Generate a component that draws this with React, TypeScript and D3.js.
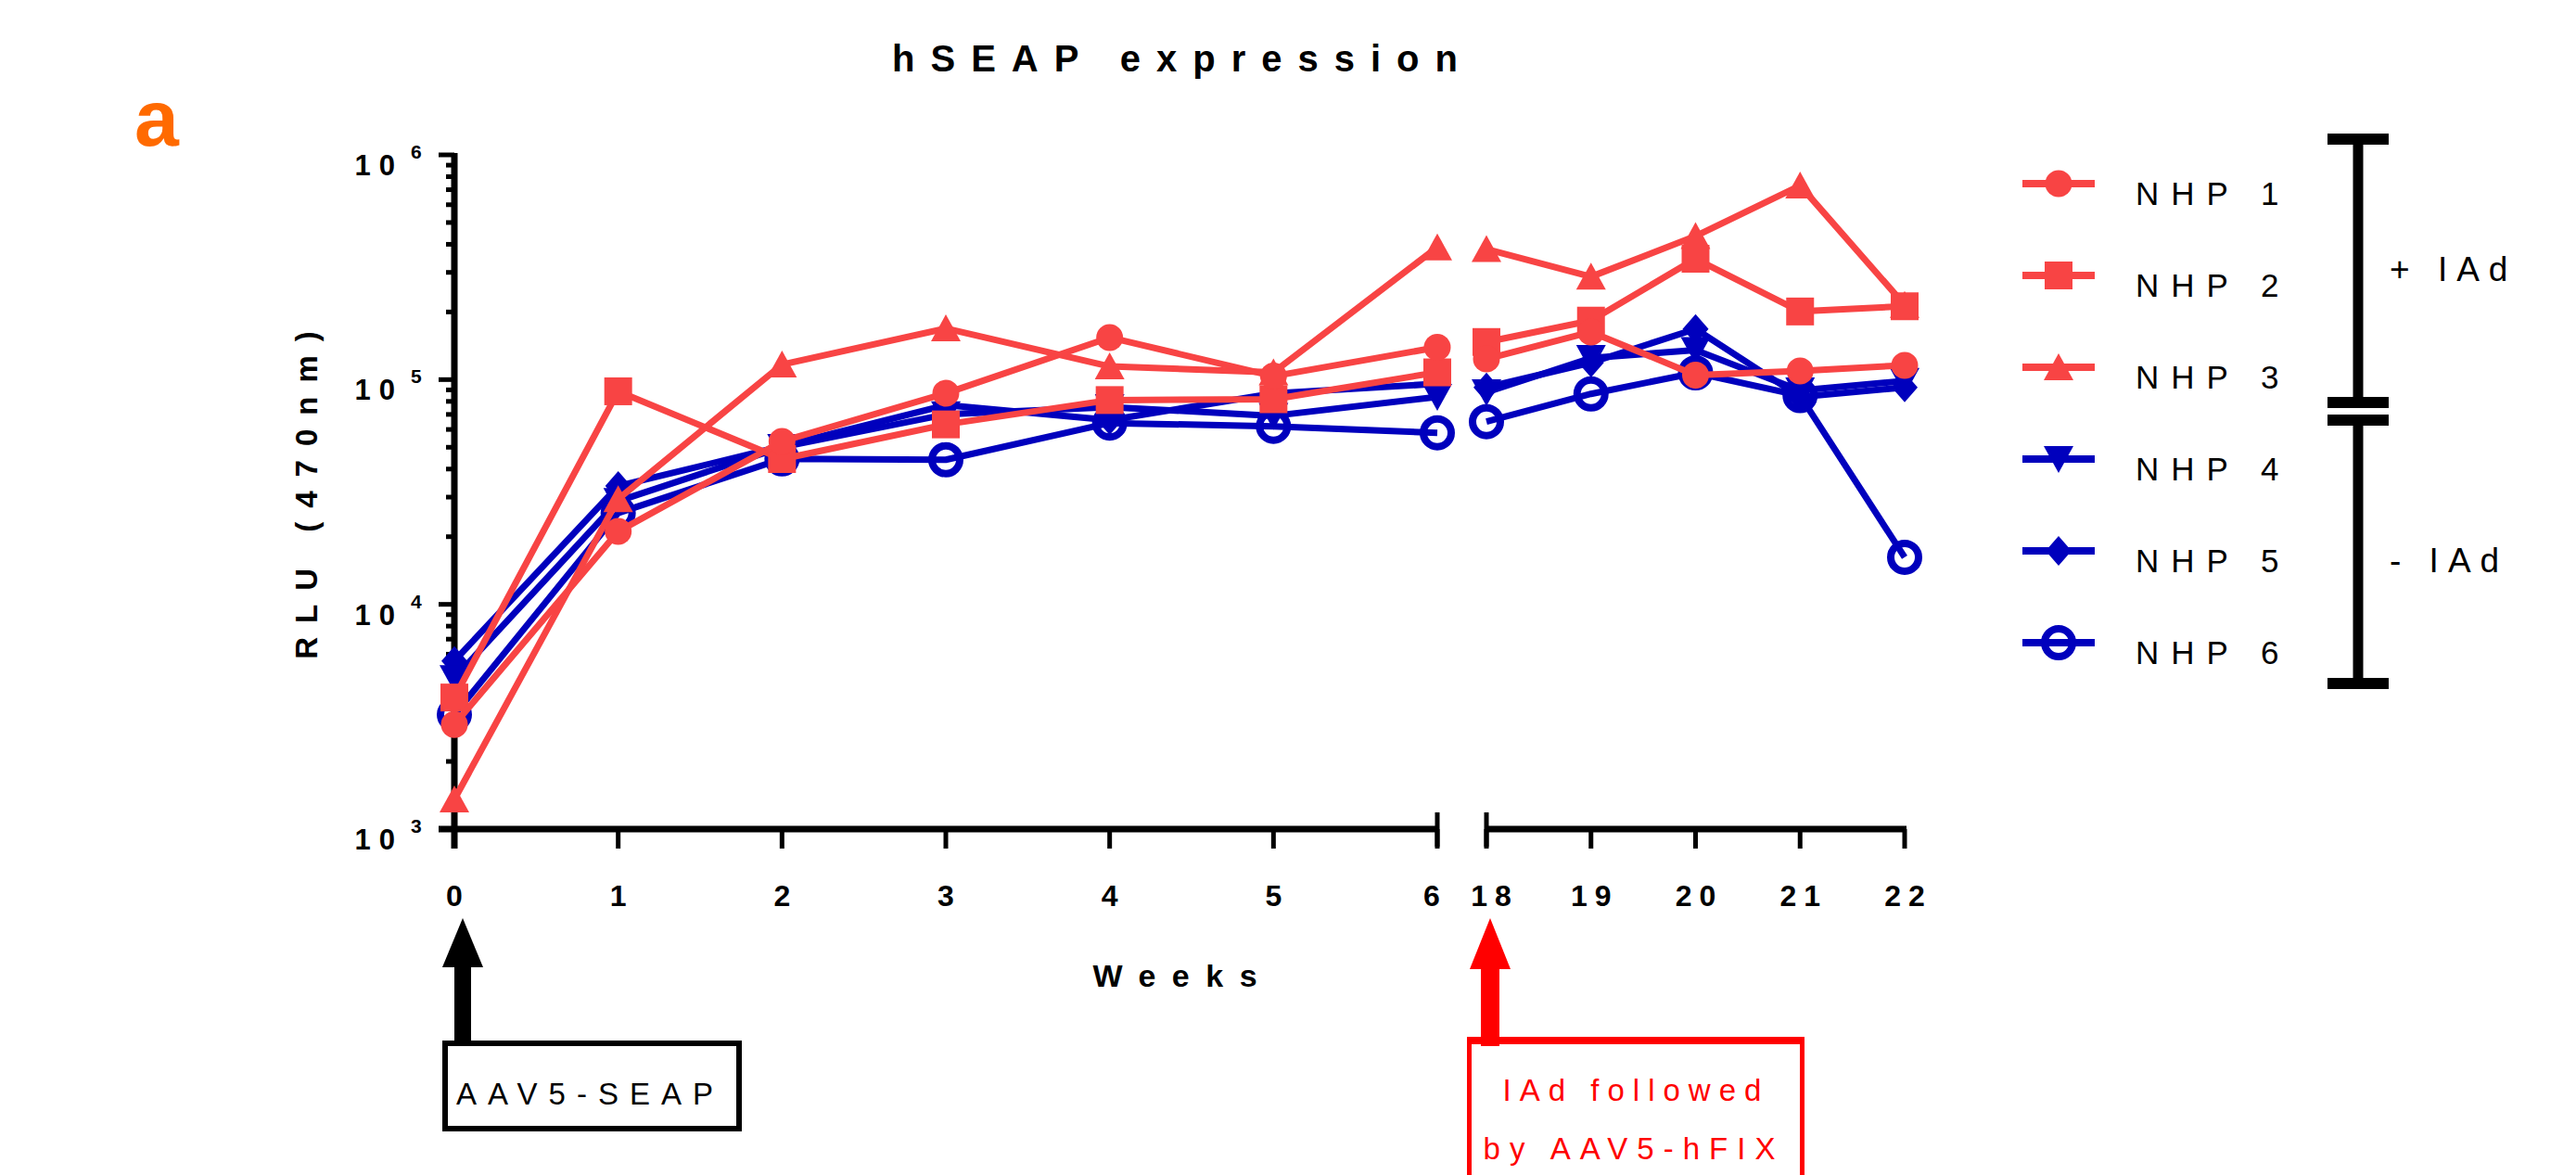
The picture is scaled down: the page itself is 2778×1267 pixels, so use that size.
import * as d3 from 'd3';
import { useEffect, useRef } from 'react';

// weeks on the two parts of the broken x axis
const weeksEarly = [0, 1, 2, 3, 4, 5, 6];
const weeksLate = [18, 19, 20, 21, 22];

// RLU (470nm), first 7 values = weeks 0..6, last 5 = weeks 18..22
const nhp1 = [2920, 21100, 53100, 86900, 153900, 103600, 139200, 123600, 163000, 104800, 109200, 115800];
const nhp2 = [3850, 88700, 44300, 63200, 81100, 81800, 107700, 147000, 183000, 345000, 201000, 212000];
const nhp3 = [1355, 29400, 116700, 169000, 114500, 107700, 388000, 381000, 287000, 435000, 730000, 215000];
const nhp4 = [4700, 28800, 50100, 70000, 75500, 69000, 83800, 87800, 124700, 135400, 89600, 98700];
const nhp5 = [5600, 33600, 50500, 77000, 66000, 86800, 95800, 92300, 119000, 168000, 83800, 92300];
const nhp6 = [3230, 25500, 44400, 44000, 64100, 62000, 58000, 65000, 86400, 107200, 84900, 16200];

const seriesNames = ['NHP 1', 'NHP 2', 'NHP 3', 'NHP 4', 'NHP 5', 'NHP 6'];
const groupLabels = ['+ IAd', '- IAd'];

const W = 2778;
const H = 1267;
const FONT = '"Liberation Sans", Arial, sans-serif';
const RED = '#f84444';
const BLUE = '#0000bd';

// marker shapes, centred on the point
const shapes: Record<string, string> = {
  circle: d3.symbol(d3.symbolCircle, Math.PI * 14.5 * 14.5)() as string,
  square: 'M-15,-15H15V15H-15Z',
  up: 'M0,-15L16,14L-16,14Z',
  down: 'M0,15L16,-14L-16,-14Z',
  diamond: 'M0,-16L14,0L0,16L-14,0Z',
  ring: d3.symbol(d3.symbolCircle, Math.PI * 15 * 15)() as string,
};

const App = () => {
  const ref = useRef<SVGSVGElement>(null);

  useEffect(() => {
    const svg = d3.select(ref.current);
    svg.selectAll('*').remove();

    const series = [
      { name: seriesNames[0], values: nhp1, color: RED, shape: 'circle' },
      { name: seriesNames[1], values: nhp2, color: RED, shape: 'square' },
      { name: seriesNames[2], values: nhp3, color: RED, shape: 'up' },
      { name: seriesNames[3], values: nhp4, color: BLUE, shape: 'down' },
      { name: seriesNames[4], values: nhp5, color: BLUE, shape: 'diamond' },
      { name: seriesNames[5], values: nhp6, color: BLUE, shape: 'ring' },
    ];

    // scales
    const y = d3.scaleLog().domain([1e3, 1e6]).range([894, 167]);
    const xEarly = d3.scaleLinear().domain([0, 6]).range([490, 1550]);
    const xLate = d3.scaleLinear().domain([18, 22]).range([1603, 2054]);
    const xPos = (w: number) => (w <= 6 ? xEarly(w) : xLate(w));
    const allWeeks = weeksEarly.concat(weeksLate);

    const drawMarker = (g: any, shape: string, color: string, cx: number, cy: number) => {
      const p = g.append('path')
        .attr('d', shapes[shape])
        .attr('transform', `translate(${cx},${cy})`);
      if (shape === 'ring') {
        p.attr('fill', 'none').attr('stroke', color).attr('stroke-width', 8);
      } else {
        p.attr('fill', color);
      }
    };

    // title + panel letter
    svg.append('text')
      .attr('x', 1267 + 8.5).attr('y', 77)
      .attr('text-anchor', 'middle')
      .style('font', `bold 40px ${FONT}`)
      .style('letter-spacing', '17px')
      .text('hSEAP expression');

    svg.append('text')
      .attr('x', 145).attr('y', 157)
      .attr('fill', '#ff6a00')
      .style('font', `bold 86px ${FONT}`)
      .text('a');

    // y axis
    const yAxis = svg.append('g');
    yAxis.append('line')
      .attr('x1', 490).attr('x2', 490)
      .attr('y1', y(1e6) - 2).attr('y2', 915)
      .attr('stroke', '#000').attr('stroke-width', 7);
    y.ticks().forEach((t) => {
      const major = Math.abs(Math.log10(t) - Math.round(Math.log10(t))) < 1e-9;
      yAxis.append('line')
        .attr('x1', major ? 473 : 481).attr('x2', 490)
        .attr('y1', y(t)).attr('y2', y(t))
        .attr('stroke', '#000').attr('stroke-width', 5);
      if (major) {
        const e = Math.round(Math.log10(t));
        yAxis.append('text')
          .attr('x', 435).attr('y', y(t) + 22)
          .attr('text-anchor', 'end')
          .style('font', `bold 31px ${FONT}`)
          .style('letter-spacing', '9px')
          .text('10');
        yAxis.append('text')
          .attr('x', 443).attr('y', y(t) + 4)
          .style('font', `bold 21px ${FONT}`)
          .text(String(e));
      }
    });

    svg.append('text')
      .attr('transform', 'translate(342,534) rotate(-90)')
      .attr('x', 7.5)
      .attr('text-anchor', 'middle')
      .style('font', `bold 33px ${FONT}`)
      .style('letter-spacing', '15px')
      .text('RLU (470nm)');

    // broken x axis
    const xAxis = svg.append('g');
    xAxis.append('line').attr('x1', 473).attr('x2', 1550).attr('y1', 894).attr('y2', 894)
      .attr('stroke', '#000').attr('stroke-width', 7);
    xAxis.append('line').attr('x1', 1603).attr('x2', 2056).attr('y1', 894).attr('y2', 894)
      .attr('stroke', '#000').attr('stroke-width', 7);
    [xEarly(6), xLate(18)].forEach((bx) => {
      xAxis.append('line').attr('x1', bx).attr('x2', bx).attr('y1', 876).attr('y2', 913)
        .attr('stroke', '#000').attr('stroke-width', 5);
    });
    allWeeks.forEach((w, i) => {
      const px = xPos(w);
      xAxis.append('line').attr('x1', px).attr('x2', px).attr('y1', 894).attr('y2', 915)
        .attr('stroke', '#000').attr('stroke-width', 5);
      const nudge = w === 6 ? -6 : w === 18 ? 5 : 0;
      xAxis.append('text')
        .attr('x', px + nudge + 4).attr('y', 977)
        .attr('text-anchor', 'middle')
        .style('font', `bold 32px ${FONT}`)
        .style('letter-spacing', '8px')
        .text(String(allWeeks[i]));
    });

    svg.append('text')
      .attr('x', 1267 + 8.75).attr('y', 1064)
      .attr('text-anchor', 'middle')
      .style('font', `bold 34px ${FONT}`)
      .style('letter-spacing', '17.5px')
      .text('Weeks');

    // data: NHP 6 first so the red animals sit on top
    const line = d3.line<[number, number]>()
      .x((d) => xPos(d[0]))
      .y((d) => y(d[1]));
    const plot = svg.append('g');
    series.slice().reverse().forEach((s) => {
      const g = plot.append('g');
      const pts: [number, number][] = allWeeks.map((w, i) => [w, s.values[i]]);
      [pts.slice(0, weeksEarly.length), pts.slice(weeksEarly.length)].forEach((seg) => {
        g.append('path')
          .attr('d', line(seg))
          .attr('fill', 'none')
          .attr('stroke', s.color)
          .attr('stroke-width', 7)
          .attr('stroke-linejoin', 'round');
      });
      pts.forEach((d) => drawMarker(g, s.shape, s.color, xPos(d[0]), y(d[1])));
    });

    // legend
    const legend = svg.append('g');
    series.forEach((s, i) => {
      const ry = 198 + i * 99;
      legend.append('line')
        .attr('x1', 2181).attr('x2', 2259).attr('y1', ry).attr('y2', ry)
        .attr('stroke', s.color).attr('stroke-width', 8);
      drawMarker(legend, s.shape, s.color, 2220, ry);
      legend.append('text')
        .attr('x', 2303).attr('y', ry + 23)
        .style('font', `35px ${FONT}`)
        .style('letter-spacing', '13px')
        .text(s.name);
    });

    // group brackets
    const brackets = [[150, 434], [453, 737]];
    brackets.forEach(([top, bottom], i) => {
      legend.append('line').attr('x1', 2543).attr('x2', 2543).attr('y1', top).attr('y2', bottom)
        .attr('stroke', '#000').attr('stroke-width', 11);
      [top, bottom].forEach((cy) => {
        legend.append('line').attr('x1', 2510).attr('x2', 2576).attr('y1', cy).attr('y2', cy)
          .attr('stroke', '#000').attr('stroke-width', 12);
      });
      legend.append('text')
        .attr('x', 2577).attr('y', i === 0 ? 303 : 617)
        .style('font', `37px ${FONT}`)
        .style('letter-spacing', '10px')
        .text(groupLabels[i]);
    });

    // annotation arrows and boxes
    const notes = svg.append('g');
    notes.append('path').attr('d', 'M499,990L521,1043L477,1043Z').attr('fill', '#000');
    notes.append('rect').attr('x', 490).attr('y', 1042).attr('width', 18).attr('height', 82).attr('fill', '#000');
    notes.append('rect').attr('x', 480).attr('y', 1125).attr('width', 317).attr('height', 92)
      .attr('fill', 'none').attr('stroke', '#000').attr('stroke-width', 6);
    notes.append('text')
      .attr('x', 492).attr('y', 1191)
      .style('font', `33px ${FONT}`)
      .style('letter-spacing', '12px')
      .text('AAV5-SEAP');

    notes.append('path').attr('d', 'M1607,990L1629,1045L1585,1045Z').attr('fill', '#ff0000');
    notes.append('rect').attr('x', 1597).attr('y', 1044).attr('width', 20).attr('height', 84).attr('fill', '#ff0000');
    notes.append('rect').attr('x', 1584.5).attr('y', 1122).attr('width', 359).attr('height', 220)
      .attr('fill', 'none').attr('stroke', '#ff0000').attr('stroke-width', 5);
    notes.append('line').attr('x1', 1582).attr('x2', 1946).attr('y1', 1122).attr('y2', 1122)
      .attr('stroke', '#ff0000').attr('stroke-width', 8);
    notes.append('text')
      .attr('x', 1760 + 4.5).attr('y', 1187)
      .attr('text-anchor', 'middle')
      .attr('fill', '#ff0000')
      .style('font', `33px ${FONT}`)
      .style('letter-spacing', '9px')
      .text('IAd followed');
    notes.append('text')
      .attr('x', 1757 + 5).attr('y', 1250)
      .attr('text-anchor', 'middle')
      .attr('fill', '#ff0000')
      .style('font', `33px ${FONT}`)
      .style('letter-spacing', '10px')
      .text('by AAV5-hFIX');
  }, []);

  return (
    <svg
      ref={ref}
      width={W}
      height={H}
      style={{ position: 'absolute', left: 0, top: 0, background: '#fff', display: 'block' }}
    />
  );
};

export default App;
